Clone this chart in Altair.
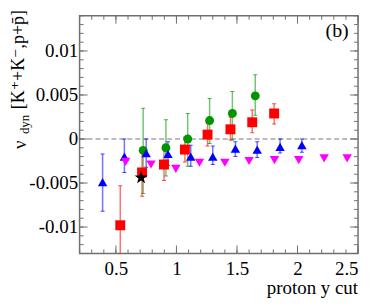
import altair as alt
import pandas as pd

# ---------------- data ----------------
red_x  = [0.536, 0.716, 0.897, 1.070, 1.257, 1.446, 1.626, 1.807]
red_y  = [-0.0098, -0.0038, -0.0029, -0.0012, 0.0005, 0.0011, 0.0019, 0.0029]
red_hi = [-0.0053, -0.0015, -0.0007, 0.0002, 0.0018, 0.0025, 0.0033, 0.0040]
red_lo = [-0.0150, -0.0065, -0.0047, -0.0026, -0.0008, -0.0001, 0.0007, 0.0017]

green_x  = [0.725, 0.913, 1.093, 1.274, 1.462, 1.651]
green_y  = [-0.0013, -0.0010, 0.0000, 0.0021, 0.0029, 0.0049]
green_hi = [0.0035, 0.0022, 0.0029, 0.0046, 0.0054, 0.0073]
green_lo = [-0.0062, -0.0042, -0.0031, -0.0005, -0.0001, 0.0027]

blue_x  = [0.39, 0.57, 0.75, 0.93, 1.118, 1.30, 1.487, 1.667, 1.856, 2.036]
blue_y  = [-0.0049, -0.0020, -0.0016, -0.0017, -0.0020, -0.0020, -0.0011, -0.0012, -0.0009, -0.0007]
blue_hi = [-0.0017, 0.0000, 0.0000, -0.0003, -0.0007, -0.0008, -0.0003, -0.0003, 0.0000, 0.0000]
blue_lo = [-0.0082, -0.0038, -0.0032, -0.0030, -0.0031, -0.0029, -0.0020, -0.0021, -0.0016, -0.0015]

magenta_x = [0.58, 0.79, 0.995, 1.19, 1.40, 1.60, 1.81, 2.01, 2.22, 2.41]
magenta_y = [-0.0026, -0.0029, -0.0034, -0.0027, -0.0027, -0.0025, -0.0024, -0.0024, -0.0022, -0.0022]

star_x = [0.708]
star_y = [-0.0044]

x_major = [0.5, 1.0, 1.5, 2.0, 2.5]
x_minor = [round(0.2 + 0.1 * i, 2) for i in range(24)]
y_major = [-0.01, -0.005, 0.0, 0.005, 0.01]
y_minor = [round(-0.013 + 0.001 * i, 3) for i in range(28)]

x_domain = [0.2, 2.5]
y_domain = [-0.013, 0.014]

x_title = "proton y cut"
y_title_main = "ν"
y_title_sub = "dyn"
y_title_rest = "[K⁺+K⁻,p+p̄]"
panel_label = "(b)"

# ---------------- layout ----------------
W, H = 280, 239
FONT = "Liberation Serif, Times New Roman, DejaVu Serif, serif"
AX = "#707070"

xs = alt.Scale(domain=x_domain, nice=False, zero=False)
ys = alt.Scale(domain=y_domain, nice=False, zero=False)

x_axis = alt.Axis(values=x_major, labelExpr="toString(datum.value)",
                  ticks=False, domain=False, grid=False, title=None,
                  labelFont=FONT, labelFontSize=19, labelColor="black", labelPadding=6)
y_axis = alt.Axis(values=y_major, labelExpr="toString(datum.value)",
                  ticks=False, domain=False, grid=False, title=None,
                  labelFont=FONT, labelFontSize=19, labelColor="black", labelPadding=2)


def XE(field):
    return alt.X(field, scale=xs, axis=x_axis)


def YE(field):
    return alt.Y(field, scale=ys, axis=y_axis)


def frame(d):
    return pd.DataFrame(d)


def series(xv, yv, lo=None, hi=None):
    d = {"x": xv, "y": yv}
    if lo is not None:
        d["lo"] = lo
        d["hi"] = hi
    return pd.DataFrame(d)


red = series(red_x, red_y, red_lo, red_hi)
green = series(green_x, green_y, green_lo, green_hi)
blue = series(blue_x, blue_y, blue_lo, blue_hi)
magenta = series(magenta_x, magenta_y)
star = series(star_x, star_y)


def errbars(df, color):
    bar = alt.Chart(df).mark_rule(color=color, opacity=0.55, strokeWidth=1.5, clip=True).encode(
        x=XE("x:Q"), y=YE("lo:Q"), y2="hi:Q")
    cap_lo = alt.Chart(df).mark_tick(color=color, opacity=0.7, orient="horizontal", size=4,
                                     thickness=1, clip=True).encode(x=XE("x:Q"), y=YE("lo:Q"))
    cap_hi = alt.Chart(df).mark_tick(color=color, opacity=0.7, orient="horizontal", size=4,
                                     thickness=1, clip=True).encode(x=XE("x:Q"), y=YE("hi:Q"))
    return [bar, cap_lo, cap_hi]


def points(df, color, shape, size):
    return alt.Chart(df).mark_point(shape=shape, filled=True, color=color, size=size, opacity=1).encode(
        x=XE("x:Q"), y=YE("y:Q"))


# inward ticks on all four sides
xmaj = frame({"x": x_major})
xmin = frame({"x": x_minor})
ymaj = frame({"y": y_major})
ymin = frame({"y": y_minor})


def xticks(df, ln):
    b = alt.Chart(df).mark_rule(color=AX, strokeWidth=1).encode(
        x=XE("x:Q"), y=alt.value(H), y2=alt.value(H - ln))
    t = alt.Chart(df).mark_rule(color=AX, strokeWidth=1).encode(
        x=XE("x:Q"), y=alt.value(0), y2=alt.value(ln))
    return [b, t]


def yticks(df, ln):
    l = alt.Chart(df).mark_rule(color=AX, strokeWidth=1).encode(
        y=YE("y:Q"), x=alt.value(0), x2=alt.value(ln))
    r = alt.Chart(df).mark_rule(color=AX, strokeWidth=1).encode(
        y=YE("y:Q"), x=alt.value(W), x2=alt.value(W - ln))
    return [l, r]


zero_line = alt.Chart(frame({"y": [0.0]})).mark_rule(
    color="#777777", strokeDash=[5, 3], strokeWidth=1).encode(
    y=YE("y:Q"), x=alt.value(0), x2=alt.value(W))


def text(s, px, py, size, align="left", angle=0, baseline="middle"):
    return alt.Chart(frame({"t": [s]})).mark_text(
        font=FONT, fontSize=size, color="black", align=align, baseline=baseline, angle=angle).encode(
        text="t:N", x=alt.value(px), y=alt.value(py))


layers = [zero_line]
layers += xticks(xmaj, 8) + xticks(xmin, 4) + yticks(ymaj, 8) + yticks(ymin, 4)
layers += errbars(green, "#009600") + errbars(red, "#ff0000") + errbars(blue, "#0000ff")
layers += [
    points(green, "#009600", "circle", 80),
    points(red, "#ff0000", "square", 100),
    points(blue, "#0000ff", "triangle-up", 90),
    points(magenta, "#ff00ff", "triangle-down", 90),
    points(star, "black", "M0,-1L0.235,-0.324L0.951,-0.309L0.38,0.124L0.588,0.809L0,0.4L-0.588,0.809L-0.38,0.124L-0.951,-0.309L-0.235,-0.324Z", 190),
]
layers += [
    text(x_title, W, 274, 19, align="right"),
    text(panel_label, 259, 15, 20, align="center"),
    text(y_title_main, -60, 134, 19, angle=270),
    text(y_title_sub, -55, 119, 13, angle=270),
    text(y_title_rest, -61, 94, 18, angle=270),
]

chart = alt.layer(*layers).properties(
    width=W, height=H,
    autosize=alt.AutoSizeParams(type="none"),
    padding={"left": 72, "top": 7, "right": 8, "bottom": 45},
).configure_view(stroke=AX, strokeWidth=1.5)

chart.save("out.html", embed_options={"renderer": "svg", "actions": False})
